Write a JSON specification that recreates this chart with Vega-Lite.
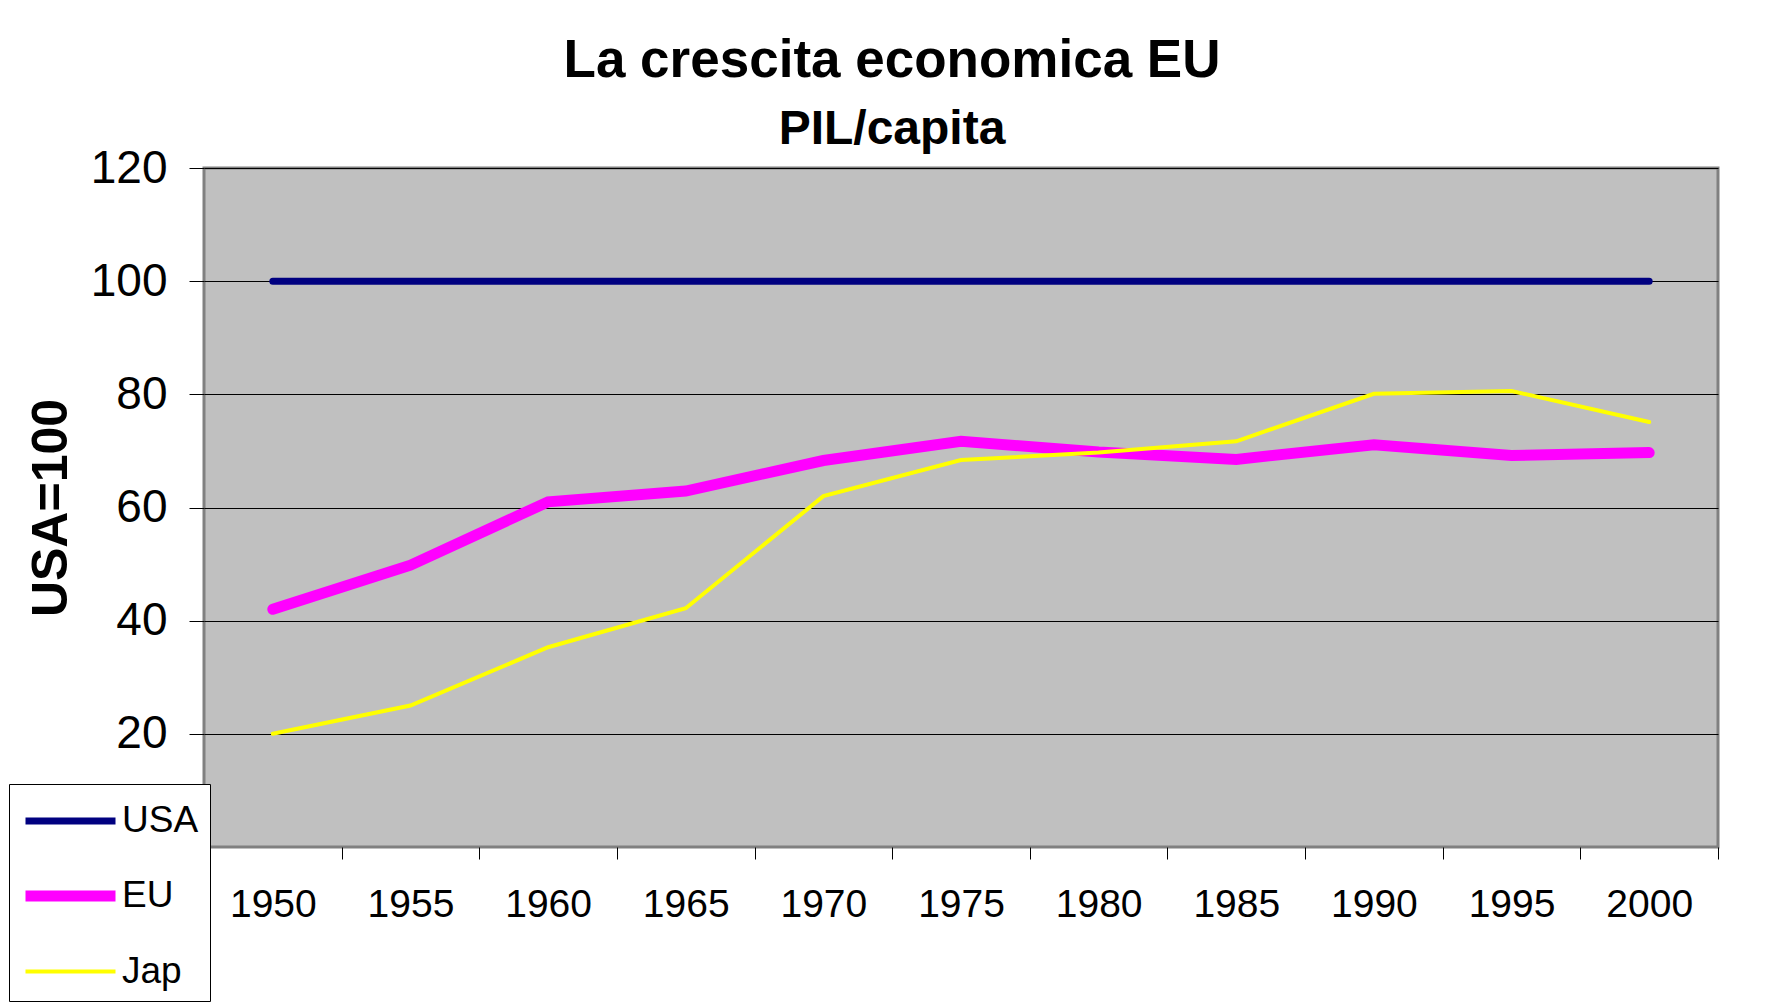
{
  "$schema": "https://vega.github.io/schema/vega-lite/v6.json",
  "width": 1514,
  "height": 679,
  "autosize": {"type": "none"},
  "padding": {"left": 204, "top": 168, "right": 63, "bottom": 156},
  "background": "white",
  "config": {
    "font": "Liberation Sans",
    "view": {"fill": "#C0C0C0", "stroke": "#808080", "strokeWidth": 3}
  },
  "title": {
    "text": "La crescita economica EU",
    "subtitle": "PIL/capita",
    "anchor": "middle",
    "dx": -69,
    "offset": -9,
    "font": "Liberation Sans",
    "fontSize": 53,
    "fontWeight": "bold",
    "color": "#000000",
    "subtitleFont": "Liberation Sans",
    "subtitleFontSize": 48,
    "subtitleFontWeight": "bold",
    "subtitleColor": "#000000",
    "subtitlePadding": 18
  },
  "data": {
    "values": [
      {"series": "USA", "year": "1950", "value": 100},
      {"series": "USA", "year": "1955", "value": 100},
      {"series": "USA", "year": "1960", "value": 100},
      {"series": "USA", "year": "1965", "value": 100},
      {"series": "USA", "year": "1970", "value": 100},
      {"series": "USA", "year": "1975", "value": 100},
      {"series": "USA", "year": "1980", "value": 100},
      {"series": "USA", "year": "1985", "value": 100},
      {"series": "USA", "year": "1990", "value": 100},
      {"series": "USA", "year": "1995", "value": 100},
      {"series": "USA", "year": "2000", "value": 100},
      {"series": "EU", "year": "1950", "value": 42},
      {"series": "EU", "year": "1955", "value": 49.8},
      {"series": "EU", "year": "1960", "value": 61},
      {"series": "EU", "year": "1965", "value": 62.9},
      {"series": "EU", "year": "1970", "value": 68.3},
      {"series": "EU", "year": "1975", "value": 71.7},
      {"series": "EU", "year": "1980", "value": 69.8},
      {"series": "EU", "year": "1985", "value": 68.5},
      {"series": "EU", "year": "1990", "value": 71.1},
      {"series": "EU", "year": "1995", "value": 69.2},
      {"series": "EU", "year": "2000", "value": 69.7},
      {"series": "Jap", "year": "1950", "value": 20},
      {"series": "Jap", "year": "1955", "value": 25},
      {"series": "Jap", "year": "1960", "value": 35.3},
      {"series": "Jap", "year": "1965", "value": 42.2},
      {"series": "Jap", "year": "1970", "value": 62},
      {"series": "Jap", "year": "1975", "value": 68.4},
      {"series": "Jap", "year": "1980", "value": 69.7},
      {"series": "Jap", "year": "1985", "value": 71.7},
      {"series": "Jap", "year": "1990", "value": 80.1},
      {"series": "Jap", "year": "1995", "value": 80.6},
      {"series": "Jap", "year": "2000", "value": 75.1}
    ]
  },
  "mark": {"type": "line", "strokeCap": "round"},
  "encoding": {
    "x": {
      "field": "year",
      "type": "ordinal",
      "bandPosition": 0.5,
      "scale": {"type": "band", "paddingInner": 0, "paddingOuter": 0},
      "axis": {
        "title": null,
        "tickBand": "extent",
        "ticks": true,
        "tickSize": 12,
        "tickColor": "#000000",
        "tickWidth": 1,
        "domain": false,
        "grid": false,
        "labelAngle": 0,
        "labelFont": "Liberation Sans",
        "labelFontSize": 39,
        "labelColor": "#000000",
        "labelPadding": 26
      }
    },
    "y": {
      "field": "value",
      "type": "quantitative",
      "scale": {"domain": [0, 120], "nice": false},
      "axis": {
        "title": "USA=100",
        "values": [20, 40, 60, 80, 100, 120],
        "grid": true,
        "gridColor": "#000000",
        "gridWidth": 1,
        "gridOpacity": 1,
        "tickSize": 15,
        "tickColor": "#000000",
        "tickWidth": 1,
        "domain": false,
        "labelFont": "Liberation Sans",
        "labelFontSize": 46,
        "labelColor": "#000000",
        "labelPadding": 22,
        "titleFont": "Liberation Sans",
        "titleFontSize": 50,
        "titleFontWeight": "bold",
        "titleColor": "#000000",
        "titlePadding": 14
      }
    },
    "color": {
      "field": "series",
      "type": "nominal",
      "sort": ["USA", "EU", "Jap"],
      "scale": {"domain": ["USA", "EU", "Jap"], "range": ["#000080", "#FF00FF", "#FFFF00"]},
      "legend": {
        "title": null,
        "orient": "none",
        "legendX": -195,
        "legendY": 616,
        "fillColor": "#FFFFFF",
        "strokeColor": "#000000",
        "padding": 11,
        "labelFont": "Liberation Sans",
        "labelFontSize": 37,
        "labelColor": "#000000",
        "symbolType": "M-1,0H3",
        "symbolSize": 2025,
        "labelOffset": 46,
        "rowPadding": 29
      }
    },
    "strokeWidth": {
      "field": "series",
      "type": "nominal",
      "sort": ["USA", "EU", "Jap"],
      "scale": {"type": "ordinal", "domain": ["USA", "EU", "Jap"], "range": [7, 11, 4]},
      "legend": {
        "title": null,
        "orient": "none",
        "legendX": -195,
        "legendY": 616,
        "fillColor": "#FFFFFF",
        "strokeColor": "#000000",
        "padding": 11,
        "labelFont": "Liberation Sans",
        "labelFontSize": 37,
        "labelColor": "#000000",
        "symbolType": "M-1,0H3",
        "symbolSize": 2025,
        "labelOffset": 46,
        "rowPadding": 29
      }
    }
  }
}
